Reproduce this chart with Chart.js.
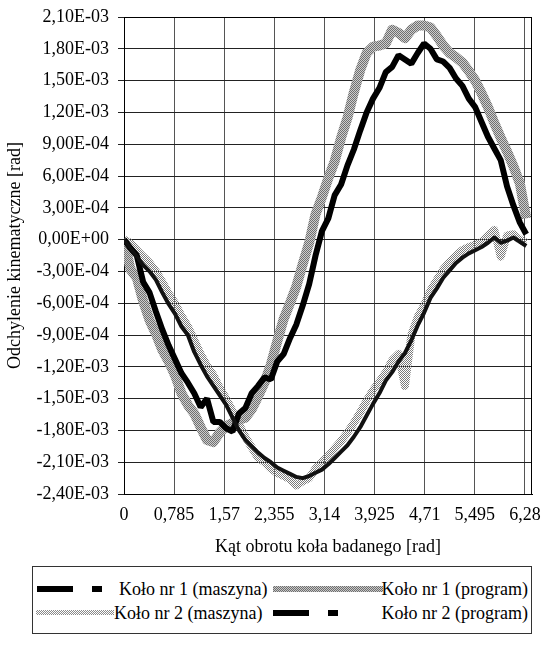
<!DOCTYPE html>
<html>
<head>
<meta charset="utf-8">
<script src="https://cdn.jsdelivr.net/npm/chart.js@4.4.0/dist/chart.umd.min.js"></script>
<style>
  html, body { margin: 0; padding: 0; background: #fff; }
  body { width: 542px; height: 653px; position: relative; overflow: hidden; font-family: "Liberation Serif", "Times New Roman", serif; }
  #wrap { position: absolute; left: 0; top: 0; width: 542px; height: 562px; }
  #legend { position: absolute; left: 32px; top: 566px; width: 500px; height: 68px; border: 1px solid #333; box-sizing: border-box; font-size: 18px; color: #000; }
  .txt { position: absolute; white-space: nowrap; line-height: 20px; }
  .smp { position: absolute; height: 6px; }
  .blk { background: #000; }
  .gry { height: 6px; background: repeating-conic-gradient(#6e6e6e 0 25%, #c8c8c8 0 50%) 0 0 / 2px 2px; }
  .dot { height: 5px; background: repeating-conic-gradient(#8a8a8a 0 25%, #fff 0 50%) 0 0 / 2px 2px; }
</style>
</head>
<body>
<div id="wrap"><canvas id="chart" width="542" height="562"></canvas></div>
<div id="legend">
  <div class="smp blk" style="left:4px; top:19px; width:36px;"></div>
  <div class="smp blk" style="left:59px; top:19px; width:10px;"></div>
  <div class="txt" style="left:86px; top:12px;">Koło nr 1 (maszyna)</div>
  <div class="smp gry" style="left:240px; top:19px; width:110px;"></div>
  <div class="txt" style="right:3px; top:12px;">Koło nr 1 (program)</div>
  <div class="smp dot" style="left:3px; top:43px; width:78px;"></div>
  <div class="txt" style="left:81px; top:36px;">Koło nr 2 (maszyna)</div>
  <div class="smp blk" style="left:240px; top:43px; width:36px;"></div>
  <div class="smp blk" style="left:295px; top:43px; width:10px;"></div>
  <div class="txt" style="right:3px; top:36px;">Koło nr 2 (program)</div>
</div>
<script>
// kąt obrotu [rad]
const angles = [0, 0.1, 0.2, 0.3, 0.4, 0.5, 0.6, 0.7, 0.8, 0.9,
  1.0, 1.1, 1.2, 1.3, 1.4, 1.5, 1.6, 1.7, 1.8, 1.9,
  2.0, 2.1, 2.2, 2.3, 2.4, 2.5, 2.6, 2.7, 2.8, 2.9,
  3.0, 3.1, 3.2, 3.3, 3.4, 3.5, 3.6, 3.7, 3.8, 3.9,
  4.0, 4.1, 4.2, 4.3, 4.4, 4.5, 4.6, 4.7, 4.8, 4.9,
  5.0, 5.1, 5.2, 5.3, 5.4, 5.5, 5.6, 5.7, 5.8, 5.9,
  6.0, 6.1, 6.2, 6.3];

// odchylenia w 1e-4 rad
const kolo1Maszyna = [0, -0.8, -1.5, -4.0, -5.0, -6.8, -8.5, -10.0, -11.3, -12.6,
  -13.5, -14.5, -15.8, -15.0, -17.2, -17.2, -17.8, -18.1, -16.4, -15.9,
  -14.5, -13.8, -13.0, -13.2, -11.5, -10.8, -9.3, -8.0, -6.2, -4.2,
  -1.5, 0.8, 2.0, 4.2, 5.2, 7.0, 8.5, 10.3, 12.0, 13.3,
  14.3, 15.8, 16.3, 17.4, 17.0, 16.6, 17.6, 18.5, 18.0, 17.0,
  16.8, 16.2, 15.2, 14.5, 13.3, 12.5, 11.1, 9.7, 8.6, 7.5,
  5.0, 3.2, 1.6, 0.5];

const kolo1Program = [0, -2.8, -3.6, -5.8, -7.6, -8.9, -10.4, -11.5, -12.8, -14.5,
  -15.6, -16.4, -17.7, -18.9, -19.1, -18.2, -17.6, -17.3, -17.0, -16.8,
  -16.0, -14.8, -13.5, -11.8, -9.6, -7.5, -6.0, -4.4, -2.3, -0.3,
  2.4, 4.0, 5.8, 7.4, 9.6, 11.5, 13.9, 16.0, 17.6, 18.2,
  18.3, 18.5, 19.8, 19.5, 19.0, 19.8, 20.2, 20.2, 20.0, 19.2,
  18.3, 17.6, 17.2, 16.7, 15.9, 15.0, 13.8, 12.5, 11.0, 9.6,
  8.3, 6.9, 5.3, 2.0];

const kolo2Maszyna = [0, -0.3, -1.0, -1.6, -2.2, -3.0, -4.0, -5.1, -6.0, -7.2,
  -8.2, -9.5, -10.8, -11.9, -12.8, -14.0, -15.0, -16.2, -17.4, -18.6,
  -19.6, -20.6, -21.0, -21.6, -22.0, -22.3, -22.6, -23.2, -22.8, -22.5,
  -21.6, -21.0, -20.4, -19.7, -19.0, -18.2, -17.3, -16.3, -15.2, -14.2,
  -13.4, -12.5, -11.4, -10.8, -13.8, -9.0, -7.3, -6.2, -4.8, -3.8,
  -2.8, -2.1, -1.5, -1.0, -0.7, -0.5, -0.2, 0.4, 0.9, -1.6,
  0.4, 0.5, 0.0, -0.3];

const kolo2Program = [0, -0.8, -1.6, -2.4, -3.0, -3.8, -5.0, -6.1, -7.0, -8.2,
  -9.0, -10.6, -11.8, -12.9, -13.8, -14.7, -15.6, -16.8, -18.0, -18.9,
  -19.5, -20.1, -20.6, -21.0, -21.5, -21.8, -22.1, -22.4, -22.5, -22.3,
  -22.0, -21.7, -21.2, -20.6, -20.0, -19.4, -18.6, -17.7, -16.6, -15.5,
  -14.5, -13.3, -12.5, -11.5, -10.7, -9.5, -8.1, -6.9, -5.5, -4.6,
  -3.6, -2.9, -2.2, -1.7, -1.3, -1.0, -0.7, -0.3, 0.2, -0.3,
  -0.1, 0.2, -0.2, -0.6];

const xTicks = [0, 0.785, 1.57, 2.355, 3.14, 3.925, 4.71, 5.495, 6.28];
const xTickLabels = ['0', '0,785', '1,57', '2,355', '3,14', '3,925', '4,71', '5,495', '6,28'];

function toPoints(vals) {
    return angles.map((a, i) => ({ x: a, y: vals[i] * 1e-4 }));
}

// small 2x2 halftone for the grey series
function makePattern(a, b) {
    const c = document.createElement('canvas');
    c.width = 2; c.height = 2;
    const g = c.getContext('2d');
    if (b) { g.fillStyle = b; g.fillRect(0, 0, 2, 2); }
    g.fillStyle = a;
    g.fillRect(0, 0, 1, 1);
    g.fillRect(1, 1, 1, 1);
    return g.createPattern(c, 'repeat');
}

function fmtE(v) {
    if (Math.abs(v) < 1e-12) v = 0;
    const parts = v.toExponential(2).split('e');
    const n = parseInt(parts[1], 10);
    return parts[0].replace('.', ',') + 'E' + (n < 0 ? '-' : '+') + String(Math.abs(n)).padStart(2, '0');
}

const frame = {
    id: 'frame',
    beforeDatasetsDraw(chart) {
        const { ctx, chartArea: a } = chart;
        ctx.save();
        ctx.strokeStyle = '#000';
        ctx.lineWidth = 1;
        ctx.strokeRect(Math.round(a.left) + 0.5, Math.round(a.top) + 0.5,
            Math.round(a.right - a.left) - 1, Math.round(a.bottom - a.top));
        ctx.restore();
    }
};

const font = { family: '"Liberation Serif", "Times New Roman", serif', size: 18 };

const ctx = document.getElementById('chart').getContext('2d');
new Chart(ctx, {
    type: 'line',
    data: {
        datasets: [{
            label: 'Koło nr 2 (program)',
            data: toPoints(kolo2Program),
            borderColor: '#111',
            borderWidth: 4,
            borderJoinStyle: 'round',
            pointRadius: 0,
            order: 1
        }, {
            label: 'Koło nr 1 (maszyna)',
            data: toPoints(kolo1Maszyna),
            borderColor: '#000',
            borderWidth: 6,
            borderJoinStyle: 'bevel',
            pointRadius: 0,
            order: 2
        }, {
            label: 'Koło nr 1 (program)',
            data: toPoints(kolo1Program),
            borderColor: makePattern('#707070', '#cdcdcd'),
            borderWidth: 10,
            borderJoinStyle: 'round',
            pointRadius: 0,
            order: 3
        }, {
            label: 'Koło nr 2 (maszyna)',
            data: toPoints(kolo2Maszyna),
            borderColor: makePattern('#7a7a7a', null),
            borderWidth: 8,
            borderJoinStyle: 'round',
            pointRadius: 0,
            order: 4
        }]
    },
    options: {
        responsive: false,
        animation: false,
        layout: { padding: { top: 17, right: 10, left: 0, bottom: 0 } },
        plugins: {
            legend: { display: false },
            tooltip: { enabled: false }
        },
        scales: {
            x: {
                type: 'linear',
                min: 0,
                max: 6.39,
                afterBuildTicks: (s) => { s.ticks = xTicks.map(v => ({ value: v })); },
                afterFit: (s) => { s.height = 68; s.paddingLeft = 0; s.paddingRight = 0; },
                grid: { color: '#555', drawTicks: false },
                border: { color: '#000' },
                ticks: {
                    autoSkip: false,
                    maxRotation: 0,
                    padding: 10,
                    color: '#000',
                    font: font,
                    callback: (v, i) => xTickLabels[i]
                },
                title: {
                    display: true,
                    text: 'Kąt obrotu koła badanego [rad]',
                    color: '#000',
                    font: font
                }
            },
            y: {
                min: -0.0024,
                max: 0.0021,
                afterFit: (s) => { s.width = 124; s.paddingTop = 0; s.paddingBottom = 0; },
                grid: { color: '#222', tickLength: 6 },
                border: { color: '#000' },
                ticks: {
                    stepSize: 0.0003,
                    padding: 9,
                    color: '#000',
                    font: font,
                    callback: (v) => fmtE(v)
                },
                title: {
                    display: true,
                    text: 'Odchylenie kinematyczne [rad]',
                    color: '#000',
                    font: font
                }
            }
        }
    },
    plugins: [frame]
});
</script>
</body>
</html>
